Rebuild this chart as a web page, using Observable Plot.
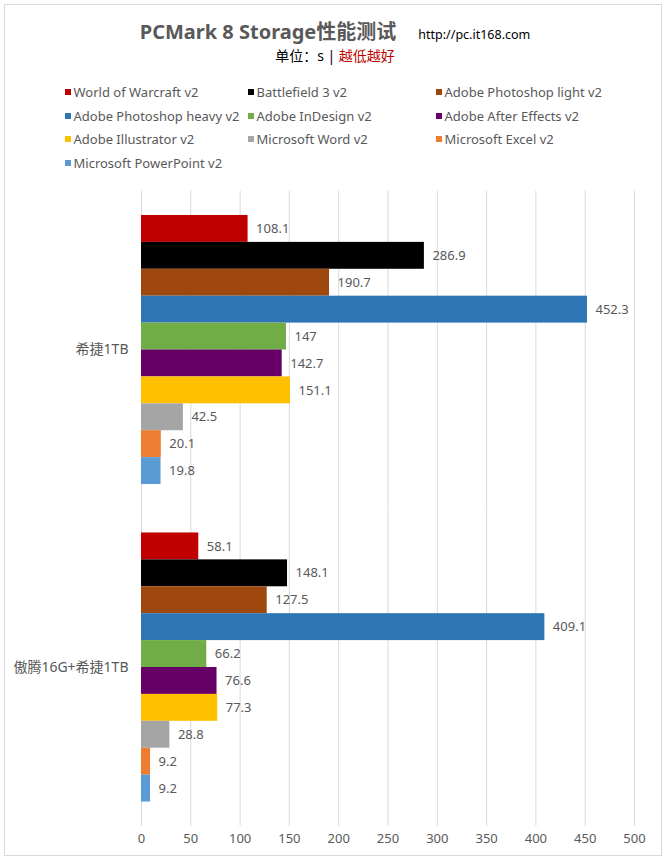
<!DOCTYPE html>
<html><head><meta charset="utf-8">
<script src="https://cdn.jsdelivr.net/npm/d3@7"></script>
<script src="https://cdn.jsdelivr.net/npm/@observablehq/plot@0.6"></script>
<style>
body{margin:0;background:#fff;font-family:"Noto Sans","Noto Sans CJK SC",sans-serif;}
#wrap{position:relative;width:670px;height:864px;overflow:hidden;}
#frame{position:absolute;left:4px;top:4px;width:658px;height:852px;border:1px solid #d9d9d9;box-sizing:border-box;}
#title{position:absolute;left:0;top:19px;width:670px;text-align:center;line-height:26px;white-space:nowrap;}
#title .t{font-size:20px;font-weight:bold;color:#595959;}
#title .u{font-size:12.5px;color:#000;margin-left:22px;}
#sub{position:absolute;left:0;top:47px;width:670px;text-align:center;font-size:14px;line-height:18px;color:#000;}
#sub .r{color:#c00000;}
.lg{position:absolute;font-size:13px;color:#595959;line-height:18px;white-space:nowrap;}
.sw{position:absolute;width:6px;height:6px;}
#chart{position:absolute;left:0;top:180px;}
#chart [aria-label^="fy-axis"] text{font-size:14px;}
</style></head>
<body><div id="wrap">
<div id="frame"></div>
<div id="title"><span class="t">PCMark 8 Storage性能测试</span><span class="u">http://pc.it168.com</span></div>
<div id="sub">单位：s | <span class="r">越低越好</span></div>
<div id="legend"></div>
<div id="chart"></div>
</div>
<script>
const categories = ["希捷1TB", "傲腾16G+希捷1TB"];
const series = ["World of Warcraft v2", "Battlefield 3 v2", "Adobe Photoshop light v2",
  "Adobe Photoshop heavy v2", "Adobe InDesign v2", "Adobe After Effects v2",
  "Adobe Illustrator v2", "Microsoft Word v2", "Microsoft Excel v2", "Microsoft PowerPoint v2"];
const colors = ["#c00000", "#000000", "#9e480e", "#2e75b6", "#70ad47", "#660066",
  "#ffc000", "#a5a5a5", "#ed7d31", "#5b9bd5"];
const valuesHDD = [108.1, 286.9, 190.7, 452.3, 147, 142.7, 151.1, 42.5, 20.1, 19.8];
const valuesOptane = [58.1, 148.1, 127.5, 409.1, 66.2, 76.6, 77.3, 28.8, 9.2, 9.2];
const xTicks = [0, 50, 100, 150, 200, 250, 300, 350, 400, 450, 500];

const data = [];
categories.forEach((c, ci) => {
  const vals = ci === 0 ? valuesHDD : valuesOptane;
  series.forEach((s, si) => data.push({category: c, series: s, value: vals[si]}));
});

// legend
const legend = document.getElementById("legend");
const colX = [65, 248, 436];
series.forEach((s, i) => {
  const col = i % 3, row = Math.floor(i / 3);
  const cy = 92 + row * 23.5;
  const sw = document.createElement("div");
  sw.className = "sw";
  sw.style.left = colX[col] + "px";
  sw.style.top = (cy - 3) + "px";
  sw.style.background = colors[i];
  legend.appendChild(sw);
  const t = document.createElement("div");
  t.className = "lg";
  t.textContent = s;
  t.style.left = (colX[col] + 8.5) + "px";
  t.style.top = (cy - 9) + "px";
  legend.appendChild(t);
});

const chart = Plot.plot({
  width: 670,
  height: 675,
  marginTop: 10.75,
  marginBottom: 29.25,
  marginLeft: 141,
  marginRight: 36,
  style: {fontFamily: '"Noto Sans","Noto Sans CJK SC",sans-serif', fontSize: "13px", color: "#595959", background: "transparent"},
  x: {domain: [0, 500], ticks: xTicks, tickSize: 0, tickPadding: 8, label: null},
  y: {domain: series, axis: null, paddingInner: 0, paddingOuter: 0.9, round: false},
  fy: {domain: categories, padding: 0, round: false, axis: "left", tickSize: 0, tickPadding: 13, label: null},
  color: {domain: series, range: colors},
  marks: [
    Plot.gridX(xTicks, {stroke: "#d9d9d9", strokeOpacity: 1}),
    Plot.barX(data, {x: "value", y: "series", fy: "category", fill: "series"}),
    Plot.text(data, {x: "value", y: "series", fy: "category", text: d => String(d.value),
      dx: 8, textAnchor: "start", fill: "#595959", fontSize: 13})
  ]
});
document.getElementById("chart").appendChild(chart);
</script>
</body></html>
